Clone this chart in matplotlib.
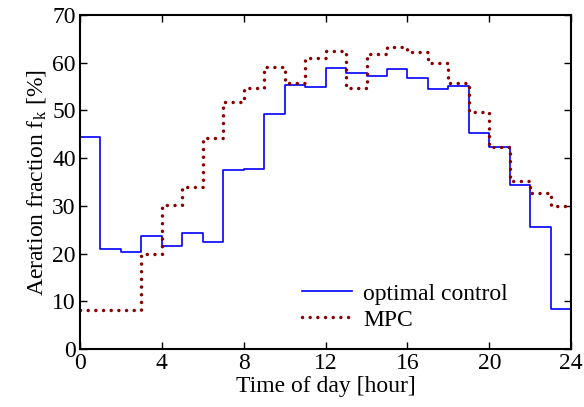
import numpy as np
import matplotlib.pyplot as plt

plt.rcParams['font.family'] = ['Liberation Serif', 'DejaVu Serif']
plt.rcParams['mathtext.fontset'] = 'stix'

# hourly values (value holds from hour h to h+1)
hours = np.arange(0, 25)
optimal = [44.5, 20.9, 20.3, 23.6, 21.6, 24.4, 22.5, 37.5, 37.8, 49.2,
           55.3, 54.9, 58.8, 57.9, 57.2, 58.6, 56.8, 54.4, 55.2, 45.3,
           42.4, 34.4, 25.6, 8.3]
mpc = [8.2, 8.2, 8.2, 19.9, 30.2, 34.0, 44.2, 51.8, 54.7, 59.2,
       55.8, 60.9, 62.5, 54.7, 61.8, 63.2, 62.3, 59.9, 55.7, 49.6,
       42.4, 35.2, 32.6, 30.0]

fig = plt.figure(figsize=(5.84, 4.07), dpi=100)
ax = fig.add_axes([0.137, 0.1425, 0.841, 0.8205])

ax.step(hours, optimal + [optimal[-1]], where="post", color="#0000ff",
        linewidth=1.2, label="optimal control")
ax.step(hours, mpc + [mpc[-1]], where="post", color="#8b0000",
        linewidth=2.5, linestyle=(0, (0.01, 2.2)), dash_capstyle="round",
        label="MPC")

ax.set_xlim(0, 24)
ax.set_ylim(0, 70)
ax.set_xticks(range(0, 25, 4))
ax.set_yticks(range(0, 71, 10))
ax.tick_params(direction="in", length=5, width=1, labelsize=17,
               top=True, right=True, pad=3)
for s in ax.spines.values():
    s.set_linewidth(1.5)

ax.set_xlabel("Time of day [hour]", fontsize=17, labelpad=1)
ax.set_ylabel("Aeration fraction f$_\\mathregular{k}$ [%]", fontsize=17, labelpad=3)

ax.legend(loc="upper left", bbox_to_anchor=(0.452, 0.197), frameon=False,
          fontsize=17, handlelength=2.1, handletextpad=0.5, labelspacing=0.18,
          borderpad=0, borderaxespad=0)

fig.savefig("out.png", dpi=100)
